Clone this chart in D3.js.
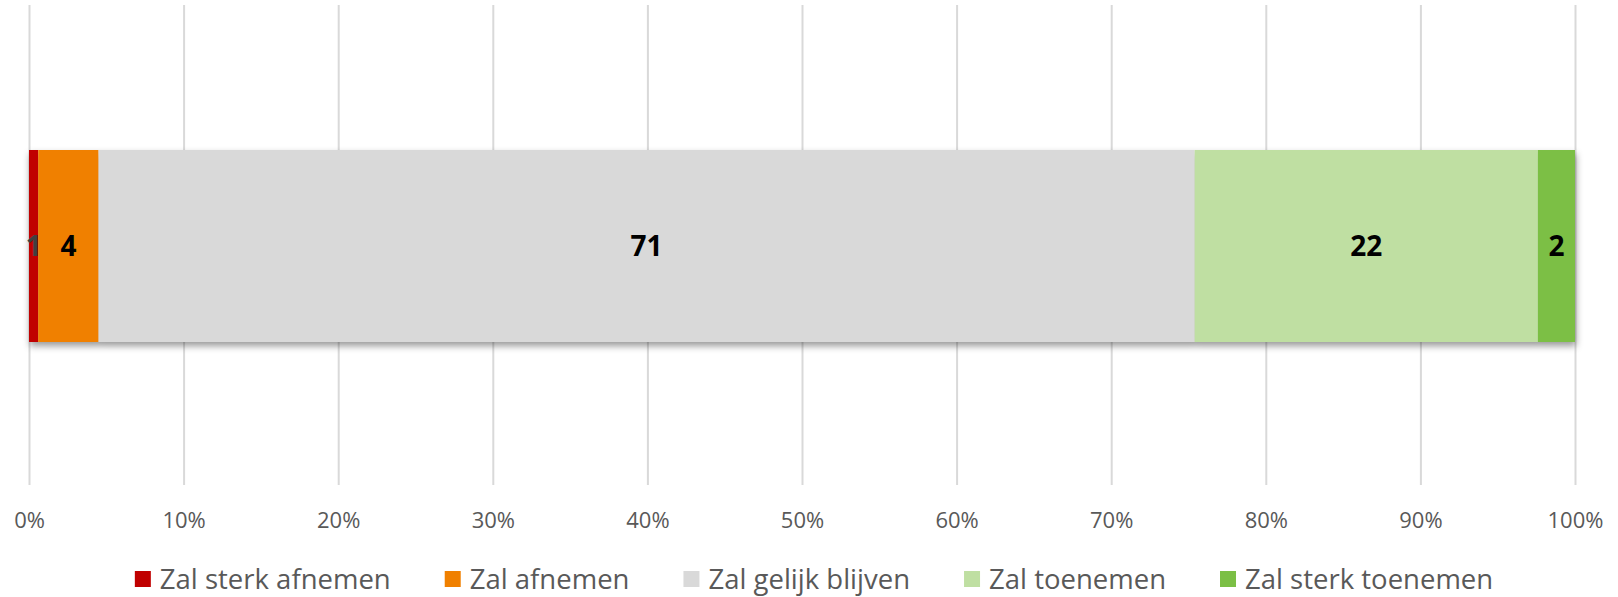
<!DOCTYPE html>
<html>
<head>
<meta charset="utf-8">
<script src="https://cdn.jsdelivr.net/npm/d3@7"></script>
<style>
  body { margin: 0; background: #fff; }
  svg { display: block; }
</style>
</head>
<body>
<div id="chart"></div>
<script>
// Single stacked 100% bar, values in percent
const categories = ["Zal sterk afnemen", "Zal afnemen", "Zal gelijk blijven", "Zal toenemen", "Zal sterk toenemen"];
const values = [0.6, 3.9, 70.9, 22.2, 2.4];
const colors = ["#C00000", "#F08000", "#D9D9D9", "#BFDFA2", "#7BBF45"];
const labelColors = ["#404040", "#000", "#000", "#000", "#000"];
const tickValues = [0, 10, 20, 30, 40, 50, 60, 70, 80, 90, 100];

const W = 1618, H = 597;
const left = 29, right = 1575;
const gridTop = 5, gridBottom = 485;

const svg = d3.select("#chart").append("svg")
  .attr("width", W).attr("height", H)
  .style("font-family", "'Open Sans', sans-serif");

const defs = svg.append("defs");
const shadow = defs.append("filter").attr("id", "shadow")
  .attr("x", "-5%").attr("y", "-10%").attr("width", "110%").attr("height", "130%");
shadow.append("feDropShadow")
  .attr("dx", 1).attr("dy", 4).attr("stdDeviation", 3.5)
  .attr("flood-color", "#000").attr("flood-opacity", 0.4);

const x = d3.scaleLinear().domain([0, 100]).range([left, right]);
const y = d3.scaleBand().domain(["row"]).range([150, 342]);

// ── Gridlines + tick labels ──
const axisG = svg.append("g")
  .attr("transform", `translate(0,${gridBottom})`)
  .call(d3.axisBottom(x)
    .tickValues(tickValues)
    .tickFormat(d => d + "%")
    .tickSizeInner(-(gridBottom - gridTop))
    .tickSizeOuter(0)
    .tickPadding(27));
axisG.select(".domain").remove();
axisG.selectAll(".tick line").attr("stroke", "#D9D9D9").attr("stroke-width", 2);
axisG.selectAll(".tick text")
  .attr("fill", "#595959")
  .attr("font-size", 22)
  .attr("font-family", "'Open Sans', sans-serif");

// ── Stacked bar ──
const row = { key: "row" };
categories.forEach((c, i) => row[c] = values[i]);
const series = d3.stack().keys(categories)([row]);

const barG = svg.append("g").attr("filter", "url(#shadow)");
barG.selectAll("rect")
  .data(series)
  .join("rect")
  .attr("x", s => x(s[0][0]))
  .attr("width", s => x(s[0][1]) - x(s[0][0]))
  .attr("y", y("row"))
  .attr("height", y.bandwidth())
  .attr("fill", (s, i) => colors[i]);

// ── Data labels ──
svg.append("g").selectAll("text")
  .data(series)
  .join("text")
  .attr("x", s => (x(s[0][0]) + x(s[0][1])) / 2)
  .attr("y", y("row") + y.bandwidth() / 2)
  .attr("dy", "0.36em")
  .attr("text-anchor", "middle")
  .attr("font-size", 28)
  .attr("font-weight", "bold")
  .attr("fill", (s, i) => labelColors[i])
  .text(s => d3.format(".0f")(s[0][1] - s[0][0]));

// ── Legend ──
const legendG = svg.append("g");
const sw = 16, gapSw = 9, gapItem = 54, legendY = 579;
let cx = 0;
categories.forEach((c, i) => {
  const g = legendG.append("g");
  g.append("rect")
    .attr("x", 0).attr("y", legendY - 8)
    .attr("width", sw).attr("height", sw)
    .attr("fill", colors[i]);
  const t = g.append("text")
    .attr("x", sw + gapSw).attr("y", legendY)
    .attr("dy", "0.35em")
    .attr("font-size", 27.5)
    .attr("fill", "#595959")
    .text(c);
  const w = sw + gapSw + t.node().getComputedTextLength();
  g.attr("transform", `translate(${cx},0)`);
  cx += w + gapItem;
});
const totalW = cx - gapItem;
legendG.attr("transform", `translate(${814 - totalW / 2},0)`);
</script>
</body>
</html>
